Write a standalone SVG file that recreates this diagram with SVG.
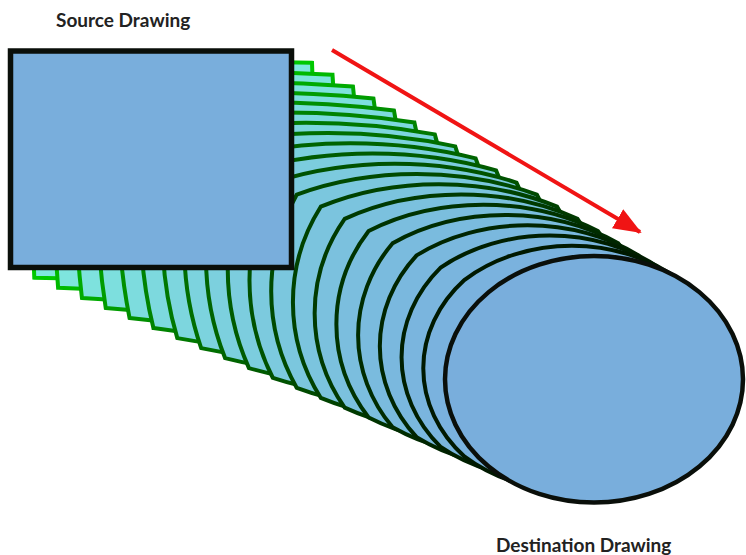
<svg xmlns="http://www.w3.org/2000/svg" width="746" height="555" viewBox="0 0 746 555">
<defs>
<style>
.lbl{font-family:Lato,"Open Sans","Liberation Sans",sans-serif;font-size:19px;font-weight:bold;fill:#222}
.tw path{stroke-width:4;vector-effect:non-scaling-stroke;stroke-linejoin:miter}
.shape{fill:#79aedc;stroke:#0a0f0a}
</style>
<marker id="ah" markerUnits="userSpaceOnUse" markerWidth="30" markerHeight="24" refX="26" refY="12" orient="auto" viewBox="0 0 30 24">
<path d="M0,1 L28,12 L0,23 Z" fill="#f01414"/>
</marker>
</defs>
<rect width="746" height="555" fill="#fff"/>
<g id="tweens" class="tw">
<path transform="translate(32.225,61.25) scale(2.8185,2.18)" fill="rgb(126,232,222)" stroke="rgb(0,200,0)" d="M100,50 C100,66.50 99.74,82.96 99.27,99.27 C82.96,99.74 66.50,100 50,100 C33.50,100 17.04,99.74 .73,99.27 C.26,82.96 0,66.50 0,50 C0,33.50 .26,17.04 .73,.73 C17.04,.26 33.50,0 50,0 C66.50,0 82.96,.26 99.27,.73 C99.74,17.04 100,33.50 100,50 Z"/>
<path transform="translate(53.95,71.5) scale(2.827,2.195)" fill="rgb(126,229,222)" stroke="rgb(0,185,0)" d="M100,50 C100,66.33 99.47,82.60 98.53,98.53 C82.60,99.47 66.33,100 50,100 C33.67,100 17.40,99.47 1.47,98.53 C.53,82.60 0,66.33 0,50 C0,33.67 .53,17.40 1.47,1.47 C17.40,.53 33.67,0 50,0 C66.33,0 82.60,.53 98.53,1.47 C99.47,17.40 100,33.67 100,50 Z"/>
<path transform="translate(75.675,81.75) scale(2.8355,2.21)" fill="rgb(126,226,222)" stroke="rgb(0,170,0)" d="M100,50 C100,66.16 99.21,82.23 97.80,97.80 C82.23,99.21 66.16,100 50,100 C33.84,100 17.77,99.21 2.20,97.80 C.79,82.23 0,66.16 0,50 C0,33.84 .79,17.77 2.20,2.20 C17.77,.79 33.84,0 50,0 C66.16,0 82.23,.79 97.80,2.20 C99.21,17.77 100,33.84 100,50 Z"/>
<path transform="translate(97.4,92) scale(2.844,2.225)" fill="rgb(125,223,222)" stroke="rgb(0,156,0)" d="M100,50 C100,65.99 98.95,81.86 97.07,97.07 C81.86,98.95 65.99,100 50,100 C34.01,100 18.14,98.95 2.93,97.07 C1.05,81.86 0,65.99 0,50 C0,34.01 1.05,18.14 2.93,2.93 C18.14,1.05 34.01,0 50,0 C65.99,0 81.86,1.05 97.07,2.93 C98.95,18.14 100,34.01 100,50 Z"/>
<path transform="translate(119.125,102.25) scale(2.8525,2.24)" fill="rgb(125,220,222)" stroke="rgb(0,143,0)" d="M100,50 C100,65.82 98.68,81.49 96.34,96.34 C81.49,98.68 65.82,100 50,100 C34.18,100 18.51,98.68 3.66,96.34 C1.32,81.49 0,65.82 0,50 C0,34.18 1.32,18.51 3.66,3.66 C18.51,1.32 34.18,0 50,0 C65.82,0 81.49,1.32 96.34,3.66 C98.68,18.51 100,34.18 100,50 Z"/>
<path transform="translate(140.85,112.5) scale(2.861,2.255)" fill="rgb(125,217,222)" stroke="rgb(0,131,0)" d="M100,50 C100,65.65 98.42,81.13 95.61,95.61 C81.13,98.42 65.65,100 50,100 C34.35,100 18.87,98.42 4.39,95.61 C1.58,81.13 0,65.65 0,50 C0,34.35 1.58,18.87 4.39,4.39 C18.87,1.58 34.35,0 50,0 C65.65,0 81.13,1.58 95.61,4.39 C98.42,18.87 100,34.35 100,50 Z"/>
<path transform="translate(162.575,122.75) scale(2.8695,2.27)" fill="rgb(125,214,222)" stroke="rgb(0,120,0)" d="M100,50 C100,65.48 98.16,80.76 94.87,94.87 C80.76,98.16 65.48,100 50,100 C34.52,100 19.24,98.16 5.13,94.87 C1.84,80.76 0,65.48 0,50 C0,34.52 1.84,19.24 5.13,5.13 C19.24,1.84 34.52,0 50,0 C65.48,0 80.76,1.84 94.87,5.13 C98.16,19.24 100,34.52 100,50 Z"/>
<path transform="translate(184.3,133) scale(2.878,2.285)" fill="rgb(124,211,222)" stroke="rgb(0,110,0)" d="M100,50 C100,65.31 97.89,80.39 94.14,94.14 C80.39,97.89 65.31,100 50,100 C34.69,100 19.61,97.89 5.86,94.14 C2.11,80.39 0,65.31 0,50 C0,34.69 2.11,19.61 5.86,5.86 C19.61,2.11 34.69,0 50,0 C65.31,0 80.39,2.11 94.14,5.86 C97.89,19.61 100,34.69 100,50 Z"/>
<path transform="translate(206.025,143.25) scale(2.8865,2.3)" fill="rgb(124,208,222)" stroke="rgb(0,100,0)" d="M100,50 C100,65.14 97.63,80.02 93.41,93.41 C80.02,97.63 65.14,100 50,100 C34.86,100 19.98,97.63 6.59,93.41 C2.37,80.02 0,65.14 0,50 C0,34.86 2.37,19.98 6.59,6.59 C19.98,2.37 34.86,0 50,0 C65.14,0 80.02,2.37 93.41,6.59 C97.63,19.98 100,34.86 100,50 Z"/>
<path transform="translate(227.75,153.5) scale(2.895,2.315)" fill="rgb(124,205,222)" stroke="rgb(0,91,0)" d="M100,50 C100,64.97 97.37,79.65 92.68,92.68 C79.65,97.37 64.97,100 50,100 C35.03,100 20.35,97.37 7.32,92.68 C2.63,79.65 0,64.97 0,50 C0,35.03 2.63,20.35 7.32,7.32 C20.35,2.63 35.03,0 50,0 C64.97,0 79.65,2.63 92.68,7.32 C97.37,20.35 100,35.03 100,50 Z"/>
<path transform="translate(249.475,163.75) scale(2.9035,2.33)" fill="rgb(124,202,222)" stroke="rgb(0,82,0)" d="M100,50 C100,64.80 97.10,79.28 91.94,91.94 C79.28,97.10 64.80,100 50,100 C35.20,100 20.72,97.10 8.06,91.94 C2.90,79.28 0,64.80 0,50 C0,35.20 2.90,20.72 8.06,8.06 C20.72,2.90 35.20,0 50,0 C64.80,0 79.28,2.90 91.94,8.06 C97.10,20.72 100,35.20 100,50 Z"/>
<path transform="translate(271.2,174) scale(2.912,2.345)" fill="rgb(123,199,222)" stroke="rgb(0,74,0)" d="M100,50 C100,64.63 96.84,78.92 91.21,91.21 C78.92,96.84 64.63,100 50,100 C35.37,100 21.08,96.84 8.79,91.21 C3.16,78.92 0,64.63 0,50 C0,35.37 3.16,21.08 8.79,8.79 C21.08,3.16 35.37,0 50,0 C64.63,0 78.92,3.16 91.21,8.79 C96.84,21.08 100,35.37 100,50 Z"/>
<path transform="translate(292.925,184.25) scale(2.9205,2.36)" fill="rgb(123,196,222)" stroke="rgb(0,66,0)" d="M100,50 C100,64.46 96.58,78.55 90.48,90.48 C78.55,96.58 64.46,100 50,100 C35.54,100 21.45,96.58 9.52,90.48 C3.42,78.55 0,64.46 0,50 C0,35.54 3.42,21.45 9.52,9.52 C21.45,3.42 35.54,0 50,0 C64.46,0 78.55,3.42 90.48,9.52 C96.58,21.45 100,35.54 100,50 Z"/>
<path transform="translate(314.65,194.5) scale(2.929,2.375)" fill="rgb(123,193,222)" stroke="rgb(0,58,0)" d="M100,50 C100,64.29 96.31,78.18 89.75,89.75 C78.18,96.31 64.29,100 50,100 C35.71,100 21.82,96.31 10.25,89.75 C3.69,78.18 0,64.29 0,50 C0,35.71 3.69,21.82 10.25,10.25 C21.82,3.69 35.71,0 50,0 C64.29,0 78.18,3.69 89.75,10.25 C96.31,21.82 100,35.71 100,50 Z"/>
<path transform="translate(336.375,204.75) scale(2.9375,2.39)" fill="rgb(123,190,222)" stroke="rgb(0,51,0)" d="M100,50 C100,64.11 96.05,77.81 89.02,89.02 C77.81,96.05 64.11,100 50,100 C35.89,100 22.19,96.05 10.98,89.02 C3.95,77.81 0,64.11 0,50 C0,35.89 3.95,22.19 10.98,10.98 C22.19,3.95 35.89,0 50,0 C64.11,0 77.81,3.95 89.02,10.98 C96.05,22.19 100,35.89 100,50 Z"/>
<path transform="translate(358.1,215) scale(2.946,2.405)" fill="rgb(122,187,222)" stroke="rgb(0,44,0)" d="M100,50 C100,63.94 95.78,77.45 88.28,88.28 C77.45,95.78 63.94,100 50,100 C36.06,100 22.55,95.78 11.72,88.28 C4.22,77.45 0,63.94 0,50 C0,36.06 4.22,22.55 11.72,11.72 C22.55,4.22 36.06,0 50,0 C63.94,0 77.45,4.22 88.28,11.72 C95.78,22.55 100,36.06 100,50 Z"/>
<path transform="translate(379.825,225.25) scale(2.9545,2.42)" fill="rgb(122,184,222)" stroke="rgb(0,37,0)" d="M100,50 C100,63.77 95.52,77.08 87.55,87.55 C77.08,95.52 63.77,100 50,100 C36.23,100 22.92,95.52 12.45,87.55 C4.48,77.08 0,63.77 0,50 C0,36.23 4.48,22.92 12.45,12.45 C22.92,4.48 36.23,0 50,0 C63.77,0 77.08,4.48 87.55,12.45 C95.52,22.92 100,36.23 100,50 Z"/>
<path transform="translate(401.55,235.5) scale(2.963,2.435)" fill="rgb(122,181,222)" stroke="rgb(0,31,0)" d="M100,50 C100,63.60 95.26,76.71 86.82,86.82 C76.71,95.26 63.60,100 50,100 C36.40,100 23.29,95.26 13.18,86.82 C4.74,76.71 0,63.60 0,50 C0,36.40 4.74,23.29 13.18,13.18 C23.29,4.74 36.40,0 50,0 C63.60,0 76.71,4.74 86.82,13.18 C95.26,23.29 100,36.40 100,50 Z"/>
<path transform="translate(423.275,245.75) scale(2.9715,2.45)" fill="rgb(122,178,222)" stroke="rgb(0,25,0)" d="M100,50 C100,63.43 94.99,76.34 86.09,86.09 C76.34,94.99 63.43,100 50,100 C36.57,100 23.66,94.99 13.91,86.09 C5.01,76.34 0,63.43 0,50 C0,36.57 5.01,23.66 13.91,13.91 C23.66,5.01 36.57,0 50,0 C63.43,0 76.34,5.01 86.09,13.91 C94.99,23.66 100,36.57 100,50 Z"/>
</g>
<g id="source">
<rect class="shape" x="10.5" y="51" width="281" height="216.5" fill="#79aadb" stroke="#000" stroke-width="5.5"/>
<text class="lbl" x="56" y="27">Source Drawing</text>
</g>
<g id="destination">
<ellipse class="shape" cx="594" cy="379.3" rx="149" ry="123.3" stroke-width="4.5"/>
<text class="lbl" x="496" y="552">Destination Drawing</text>
</g>
<g id="connectors">
<line x1="332" y1="50" x2="640" y2="232" stroke="#f01414" stroke-width="4" marker-end="url(#ah)"/>
</g>
</svg>
